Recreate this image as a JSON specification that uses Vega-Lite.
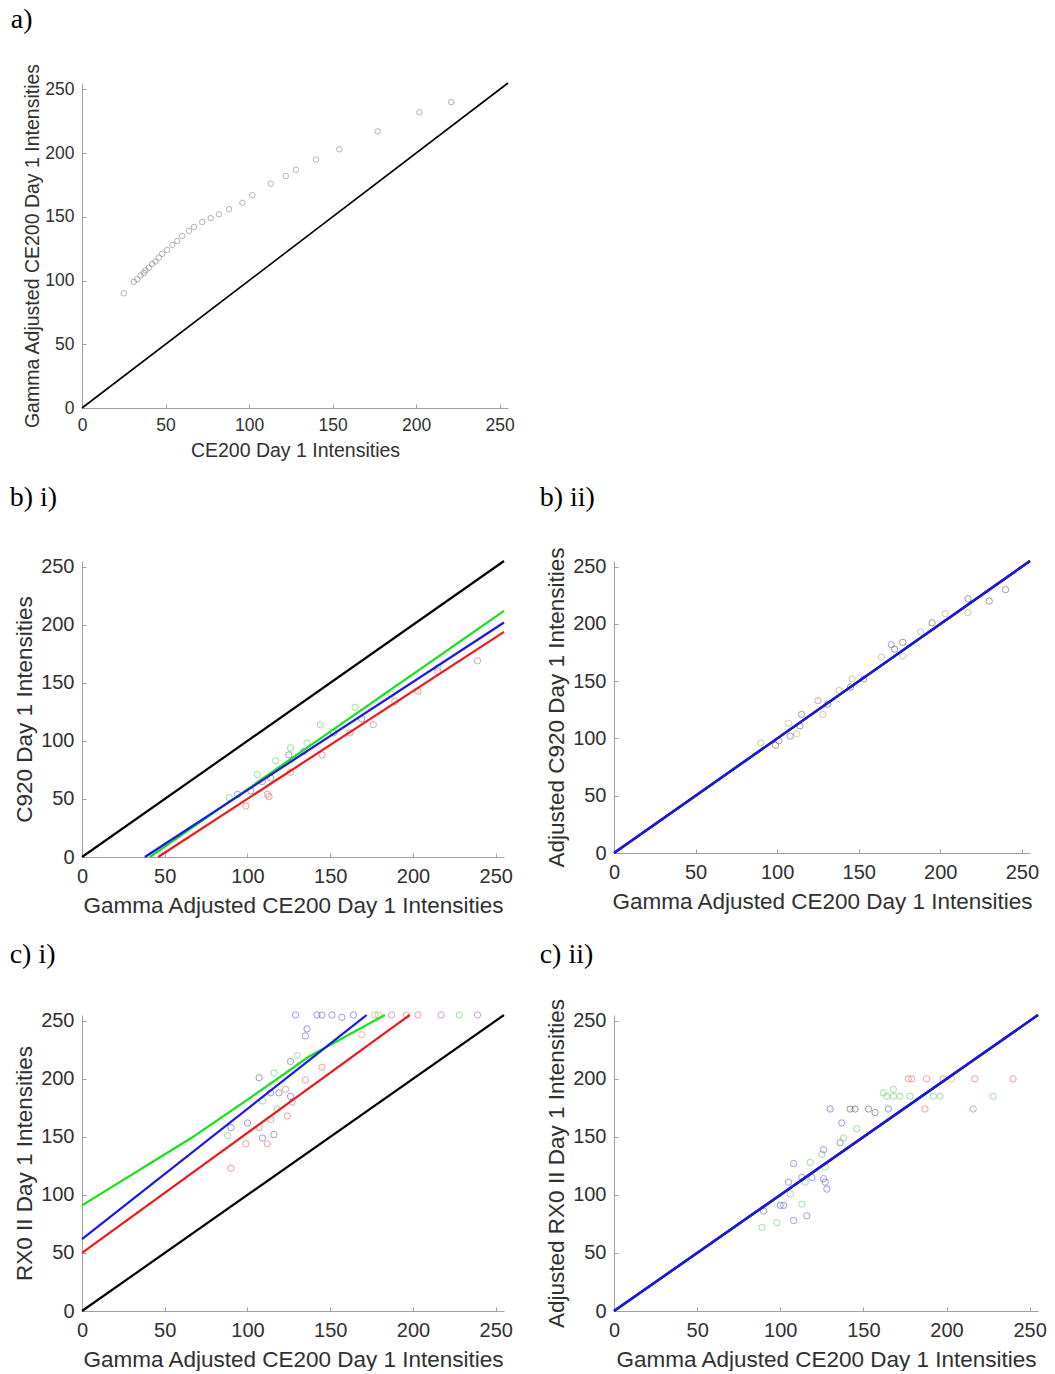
{
  "$schema": "https://vega.github.io/schema/vega-lite/v6.json",
  "padding": {"left": 9, "top": 5, "right": 5, "bottom": 0},
  "background": "white",
  "columns": 2,
  "align": "each",
  "spacing": {"row": 23, "column": 24},
  "config": {
    "view": {"stroke": null},
    "axis": {
      "grid": false, "domainColor": "#a0a0a0", "tickColor": "#a0a0a0", "tickSize": -4,
      "labelFont": "Liberation Sans", "labelFontSize": 20, "labelColor": "#303030",
      "titleFont": "Liberation Sans", "titleFontSize": 22.5, "titleFontWeight": "normal", "titleColor": "#303030",
      "labelFlush": false, "labelOverlap": false
    },
    "axisX": {"labelPadding": 13, "titlePadding": 8},
    "axisY": {"labelPadding": 12, "titlePadding": 4},
    "title": {"font": "Liberation Serif", "fontSize": 28, "fontWeight": "normal", "color": "#000000", "anchor": "start", "frame": "bounds", "baseline": "alphabetic"}
  },
  "datasets": {
    "a_pts": [
      {"x":25,"y":90},{"x":31,"y":99},{"x":33,"y":101},{"x":35,"y":104},{"x":37,"y":106},{"x":38,"y":108},{"x":40,"y":110},{"x":42,"y":113},{"x":44,"y":115},{"x":46,"y":118},{"x":48,"y":121},{"x":51,"y":124},{"x":54,"y":128},{"x":57,"y":131},{"x":60,"y":135},{"x":64,"y":139},{"x":67,"y":142},{"x":72,"y":146},{"x":77,"y":149},{"x":82,"y":152},{"x":88,"y":156},{"x":96,"y":161},{"x":102,"y":167},{"x":113,"y":176},{"x":122,"y":182},{"x":128,"y":187},{"x":140,"y":195},{"x":154,"y":203},{"x":177,"y":217},{"x":202,"y":232},{"x":221,"y":240}
    ],
    "a_lines": [
      {"series":"y=x","o":0,"x":0,"y":0},{"series":"y=x","o":1,"x":255,"y":255}
    ],
    "bi_lines": [
      {"series":"y=x","o":0,"x":0,"y":0},{"series":"y=x","o":1,"x":255,"y":255},
      {"series":"fit G","o":0,"x":41,"y":0},{"series":"fit G","o":1,"x":255,"y":212},
      {"series":"fit B","o":0,"x":38,"y":0},{"series":"fit B","o":1,"x":255,"y":202},
      {"series":"fit R","o":0,"x":46,"y":0},{"series":"fit R","o":1,"x":255,"y":194}
    ],
    "bi_pts": [
      {"s":"R","x":99,"y":44},{"s":"R","x":112,"y":54},{"s":"R","x":113,"y":52},{"s":"R","x":126,"y":73},{"s":"R","x":145,"y":88},{"s":"R","x":162,"y":107},{"s":"R","x":176,"y":114},{"s":"R","x":189,"y":134},{"s":"R","x":203,"y":143},{"s":"R","x":215,"y":160},{"s":"R","x":239,"y":169},
      {"s":"G","x":89,"y":51},{"s":"G","x":106,"y":71},{"s":"G","x":117,"y":83},{"s":"G","x":126,"y":94},{"s":"G","x":136,"y":98},{"s":"G","x":144,"y":114},{"s":"G","x":165,"y":129},{"s":"G","x":187,"y":140},{"s":"G","x":215,"y":163},
      {"s":"B","x":94,"y":54},{"s":"B","x":102,"y":57},{"s":"B","x":109,"y":65},{"s":"B","x":114,"y":68},{"s":"B","x":125,"y":88},{"s":"B","x":134,"y":91},{"s":"B","x":152,"y":107},{"s":"B","x":169,"y":119}
    ],
    "ii_lines": [
      {"series":"y=x","o":0,"x":0,"y":0},{"series":"y=x","o":1,"x":255,"y":255},
      {"series":"fit B","o":0,"x":0,"y":0},{"series":"fit B","o":1,"x":255,"y":255}
    ],
    "bii_pts": [
      {"s":"Y","x":90,"y":96},{"s":"K","x":99,"y":94},{"s":"B","x":101,"y":98},{"s":"Y","x":107,"y":113},{"s":"B","x":108,"y":102},{"s":"O","x":112,"y":104},{"s":"K","x":114,"y":111},{"s":"B","x":115,"y":121},{"s":"M","x":125,"y":133},{"s":"Y","x":128,"y":121},{"s":"K","x":131,"y":130},{"s":"Y","x":138,"y":142},{"s":"K","x":145,"y":145},{"s":"Y","x":146,"y":152},{"s":"B","x":153,"y":152},{"s":"Y","x":164,"y":171},{"s":"B","x":170,"y":182},{"s":"K","x":172,"y":178},{"s":"Y","x":177,"y":172},{"s":"K","x":177,"y":184},{"s":"Y","x":188,"y":193},{"s":"K","x":195,"y":201},{"s":"Y","x":203,"y":209},{"s":"K","x":217,"y":222},{"s":"Y","x":217,"y":210},{"s":"K","x":230,"y":220},{"s":"K","x":240,"y":230}
    ],
    "ci_lines": [
      {"series":"y=x","o":0,"x":0,"y":0},{"series":"y=x","o":1,"x":255,"y":255},
      {"series":"fit G","o":0,"x":0,"y":91},{"series":"fit G","o":1,"x":66,"y":149},{"series":"fit G","o":2,"x":102,"y":184},{"series":"fit G","o":3,"x":137,"y":219},{"series":"fit G","o":4,"x":183,"y":255},
      {"series":"fit B","o":0,"x":0,"y":62},{"series":"fit B","o":1,"x":172,"y":255},
      {"series":"fit R","o":0,"x":0,"y":50},{"series":"fit R","o":1,"x":198,"y":255}
    ],
    "ci_pts": [
      {"s":"B","x":129,"y":255},{"s":"B","x":142,"y":255},{"s":"B","x":145,"y":255},{"s":"B","x":151,"y":255},{"s":"B","x":157,"y":253},{"s":"B","x":164,"y":255},{"s":"G","x":177,"y":255},{"s":"O","x":179,"y":255},{"s":"M","x":187,"y":255},{"s":"R","x":196,"y":255},{"s":"R","x":203,"y":255},{"s":"M","x":217,"y":255},{"s":"G","x":228,"y":255},{"s":"M","x":239,"y":255},
      {"s":"B","x":136,"y":243},{"s":"B","x":135,"y":237},{"s":"B","x":126,"y":215},{"s":"G","x":130,"y":220},{"s":"O","x":169,"y":238},{"s":"R","x":145,"y":210},{"s":"B","x":107,"y":201},{"s":"R","x":135,"y":199},{"s":"G","x":116,"y":205},{"s":"B","x":114,"y":188},{"s":"B","x":119,"y":188},{"s":"R","x":123,"y":191},{"s":"B","x":126,"y":185},{"s":"M","x":127,"y":180},{"s":"R","x":124,"y":168},{"s":"R","x":114,"y":165},{"s":"B","x":100,"y":162},{"s":"B","x":90,"y":158},{"s":"G","x":88,"y":151},{"s":"B","x":109,"y":149},{"s":"B","x":116,"y":152},{"s":"R","x":99,"y":144},{"s":"R","x":112,"y":144},{"s":"R","x":90,"y":123},{"s":"R","x":107,"y":158},{"s":"G","x":118,"y":174},{"s":"G","x":109,"y":181}
    ],
    "cii_pts": [
      {"s":"R","x":177,"y":200},{"s":"R","x":179,"y":200},{"s":"R","x":188,"y":200},{"s":"R","x":198,"y":200},{"s":"O","x":203,"y":200},{"s":"R","x":217,"y":200},{"s":"R","x":240,"y":200},
      {"s":"G","x":162,"y":188},{"s":"G","x":164,"y":185},{"s":"G","x":168,"y":185},{"s":"G","x":168,"y":191},{"s":"G","x":172,"y":185},{"s":"G","x":178,"y":185},{"s":"G","x":192,"y":185},{"s":"G","x":196,"y":185},{"s":"G","x":228,"y":185},
      {"s":"B","x":130,"y":174},{"s":"K","x":142,"y":174},{"s":"K","x":145,"y":174},{"s":"K","x":153,"y":174},{"s":"K","x":157,"y":171},{"s":"B","x":165,"y":174},{"s":"R","x":187,"y":174},{"s":"M","x":216,"y":174},
      {"s":"B","x":137,"y":162},{"s":"G","x":146,"y":157},{"s":"B","x":136,"y":145},{"s":"B","x":126,"y":139},{"s":"G","x":125,"y":135},{"s":"G","x":138,"y":149},{"s":"B","x":108,"y":127},{"s":"G","x":118,"y":128},{"s":"G","x":127,"y":124},{"s":"B","x":113,"y":115},{"s":"B","x":119,"y":115},{"s":"B","x":126,"y":114},{"s":"B","x":127,"y":111},{"s":"B","x":128,"y":105},{"s":"G","x":115,"y":111},{"s":"B","x":105,"y":111},{"s":"G","x":106,"y":101},{"s":"B","x":100,"y":91},{"s":"B","x":102,"y":91},{"s":"G","x":113,"y":92},{"s":"B","x":90,"y":86},{"s":"B","x":116,"y":82},{"s":"B","x":108,"y":78},{"s":"G","x":98,"y":76},{"s":"G","x":89,"y":72}
    ]
  },
  "concat": [
    {
      "width": 426, "height": 325,
      "title": {"text": "a)", "dx": -12, "offset": 29},
      "layer": [
        {"data": {"name": "a_pts"}, "mark": {"type": "point", "shape": "circle", "filled": false, "size": 30, "strokeWidth": 1, "color": "#808080", "opacity": 0.6},
         "encoding": {
           "x": {"field": "x", "type": "quantitative", "scale": {"domain": [0, 255], "nice": false}, "axis": {"title": "CE200 Day 1 Intensities", "values": [0,50,100,150,200,250], "labelFontSize": 17.5, "titleFontSize": 19.5, "labelPadding": 12}},
           "y": {"field": "y", "type": "quantitative", "scale": {"domain": [0, 255], "nice": false}, "axis": {"title": "Gamma Adjusted CE200 Day 1 Intensities", "values": [0,50,100,150,200,250], "labelFontSize": 17.5, "titleFontSize": 19.5, "titlePadding": 2}}
         }},
        {"data": {"name": "a_lines"}, "mark": {"type": "line", "color": "#000000", "strokeWidth": 1.6},
         "encoding": {"x": {"field": "x", "type": "quantitative"}, "y": {"field": "y", "type": "quantitative"}, "order": {"field": "o"}}}
      ]
    },
    {
      "width": 416, "height": 10,
      "data": {"values": [{"x": 0}]},
      "mark": {"type": "point", "opacity": 0},
      "encoding": {}
    },
    {
      "width": 422, "height": 296,
      "title": {"text": "b) i)", "dx": -4, "offset": 45},
      "layer": [
        {"data": {"name": "bi_pts"}, "mark": {"type": "point", "shape": "circle", "filled": false, "size": 40, "strokeWidth": 1, "opacity": 0.5},
         "encoding": {
           "x": {"field": "x", "type": "quantitative", "scale": {"domain": [0, 255], "nice": false}, "axis": {"title": "Gamma Adjusted CE200 Day 1 Intensities", "values": [0,50,100,150,200,250]}},
           "y": {"field": "y", "type": "quantitative", "scale": {"domain": [0, 255], "nice": false}, "axis": {"title": "C920 Day 1 Intensities", "values": [0,50,100,150,200,250]}},
           "color": {"field": "s", "type": "nominal", "legend": null, "scale": {"domain": ["y=x","fit R","fit G","fit B","R","G","B","Y","M","O","K"], "range": ["#000000","#f01818","#18e018","#1818e8","#e04040","#40c040","#3838c8","#98a030","#a040a8","#d88830","#383838"]}}
         }},
        {"data": {"name": "bi_lines"}, "mark": {"type": "line", "strokeWidth": 2.2},
         "encoding": {"x": {"field": "x", "type": "quantitative"}, "y": {"field": "y", "type": "quantitative"}, "order": {"field": "o"},
           "color": {"field": "series", "type": "nominal", "legend": null, "scale": {"domain": ["y=x","fit R","fit G","fit B","R","G","B","Y","M","O","K"], "range": ["#000000","#f01818","#18e018","#1818e8","#e04040","#40c040","#3838c8","#98a030","#a040a8","#d88830","#383838"]}}}}
      ]
    },
    {
      "width": 416, "height": 292,
      "title": {"text": "b) ii)", "dx": -6, "offset": 35},
      "layer": [
        {"data": {"name": "bii_pts"}, "mark": {"type": "point", "shape": "circle", "filled": false, "size": 40, "strokeWidth": 1, "opacity": 0.5},
         "encoding": {
           "x": {"field": "x", "type": "quantitative", "scale": {"domain": [0, 255], "nice": false}, "axis": {"title": "Gamma Adjusted CE200 Day 1 Intensities", "values": [0,50,100,150,200,250]}},
           "y": {"field": "y", "type": "quantitative", "scale": {"domain": [0, 255], "nice": false}, "axis": {"title": "Adjusted C920 Day 1 Intensities", "values": [0,50,100,150,200,250]}},
           "color": {"field": "s", "type": "nominal", "legend": null, "scale": {"domain": ["y=x","fit R","fit G","fit B","R","G","B","Y","M","O","K"], "range": ["#000000","#f01818","#18e018","#1818e8","#e04040","#40c040","#3838c8","#98a030","#a040a8","#d88830","#383838"]}}
         }},
        {"data": {"name": "ii_lines"}, "mark": {"type": "line", "strokeWidth": 2.4},
         "encoding": {"x": {"field": "x", "type": "quantitative"}, "y": {"field": "y", "type": "quantitative"}, "order": {"field": "o"},
           "color": {"field": "series", "type": "nominal", "legend": null, "scale": {"domain": ["y=x","fit R","fit G","fit B","R","G","B","Y","M","O","K"], "range": ["#000000","#f01818","#18e018","#1818e8","#e04040","#40c040","#3838c8","#98a030","#a040a8","#d88830","#383838"]}}}}
      ]
    },
    {
      "width": 422, "height": 296,
      "title": {"text": "c) i)", "dx": -4, "offset": 41},
      "layer": [
        {"data": {"name": "ci_pts"}, "mark": {"type": "point", "shape": "circle", "filled": false, "size": 40, "strokeWidth": 1, "opacity": 0.5},
         "encoding": {
           "x": {"field": "x", "type": "quantitative", "scale": {"domain": [0, 255], "nice": false}, "axis": {"title": "Gamma Adjusted CE200 Day 1 Intensities", "values": [0,50,100,150,200,250]}},
           "y": {"field": "y", "type": "quantitative", "scale": {"domain": [0, 255], "nice": false}, "axis": {"title": "RX0 II Day 1 Intensities", "values": [0,50,100,150,200,250]}},
           "color": {"field": "s", "type": "nominal", "legend": null, "scale": {"domain": ["y=x","fit R","fit G","fit B","R","G","B","Y","M","O","K"], "range": ["#000000","#f01818","#18e018","#1818e8","#e04040","#40c040","#3838c8","#98a030","#a040a8","#d88830","#383838"]}}
         }},
        {"data": {"name": "ci_lines"}, "mark": {"type": "line", "strokeWidth": 2.2},
         "encoding": {"x": {"field": "x", "type": "quantitative"}, "y": {"field": "y", "type": "quantitative"}, "order": {"field": "o"},
           "color": {"field": "series", "type": "nominal", "legend": null, "scale": {"domain": ["y=x","fit R","fit G","fit B","R","G","B","Y","M","O","K"], "range": ["#000000","#f01818","#18e018","#1818e8","#e04040","#40c040","#3838c8","#98a030","#a040a8","#d88830","#383838"]}}}}
      ]
    },
    {
      "width": 424, "height": 296,
      "title": {"text": "c) ii)", "dx": -6, "offset": 30},
      "layer": [
        {"data": {"name": "cii_pts"}, "mark": {"type": "point", "shape": "circle", "filled": false, "size": 40, "strokeWidth": 1, "opacity": 0.5},
         "encoding": {
           "x": {"field": "x", "type": "quantitative", "scale": {"domain": [0, 255], "nice": false}, "axis": {"title": "Gamma Adjusted CE200 Day 1 Intensities", "values": [0,50,100,150,200,250]}},
           "y": {"field": "y", "type": "quantitative", "scale": {"domain": [0, 255], "nice": false}, "axis": {"title": "Adjusted RX0 II Day 1 Intensities", "values": [0,50,100,150,200,250]}},
           "color": {"field": "s", "type": "nominal", "legend": null, "scale": {"domain": ["y=x","fit R","fit G","fit B","R","G","B","Y","M","O","K"], "range": ["#000000","#f01818","#18e018","#1818e8","#e04040","#40c040","#3838c8","#98a030","#a040a8","#d88830","#383838"]}}
         }},
        {"data": {"name": "ii_lines"}, "mark": {"type": "line", "strokeWidth": 2.4},
         "encoding": {"x": {"field": "x", "type": "quantitative"}, "y": {"field": "y", "type": "quantitative"}, "order": {"field": "o"},
           "color": {"field": "series", "type": "nominal", "legend": null, "scale": {"domain": ["y=x","fit R","fit G","fit B","R","G","B","Y","M","O","K"], "range": ["#000000","#f01818","#18e018","#1818e8","#e04040","#40c040","#3838c8","#98a030","#a040a8","#d88830","#383838"]}}}}
      ]
    }
  ]
}
